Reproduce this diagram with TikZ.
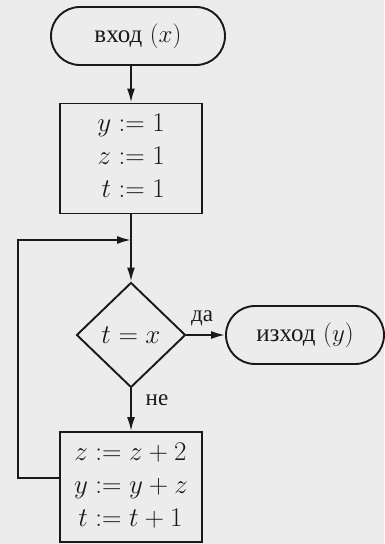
\documentclass[tikz,border=0pt]{standalone}
\usepackage{fix-cm}
\usepackage{amsmath}
\usepackage{fontspec}
\newfontfamily\cyr{Liberation Serif}
\usetikzlibrary{shapes.geometric,arrows.meta}
\definecolor{bgc}{RGB}{236,236,236}
\definecolor{ink}{RGB}{25,25,25}
\begin{document}
\begin{tikzpicture}[x=1pt,y=-1pt,line width=1.9pt,draw=ink,text=ink,
  term/.style={draw,rectangle,rounded corners=28.9pt,minimum width=174pt,minimum height=58pt,inner sep=0pt,font=\fontsize{25}{28}\selectfont},
  proc/.style={draw,rectangle,minimum width=142pt,minimum height=110pt,inner sep=0pt,font=\fontsize{27}{30}\selectfont},
  dec/.style={draw,diamond,minimum width=109pt,minimum height=105pt,inner sep=0pt,font=\fontsize{27}{30}\selectfont},
  lbl/.style={font=\fontsize{23}{26}\selectfont\cyr,inner sep=0pt},
  arr/.style={-{Latex[length=14pt,width=8pt]}}]
\fill[bgc] (0,0) rectangle (384,544);
\useasboundingbox (0,0) rectangle (384,544);
\node[term] (in) at (138,36) {{\cyr вход} $(x)$};
\node[proc] (b1) at (131,158.5) {$\begin{aligned} y&:=1\\ z&:=1\\ t&:=1\end{aligned}$};
\node[dec] (d) at (131,335) {$t=x$};
\node[term,minimum width=158pt] (out) at (305,335) {{\cyr изход} $(y)$};
\node[proc] (b2) at (131,487) {$\begin{aligned} z&:=z+2\\ y&:=y+z\\ t&:=t+1\end{aligned}$};
\coordinate (j) at (131,240);
\coordinate (lc) at (18,240);
\node[lbl] (da) at (202,318) {да};
\node[lbl] (ne) at (157,400) {не};
\draw[arr] (in.south -| b1.north) -- (b1.north);
\draw[arr] (b1.south) -- (d.north);
\draw[arr] (d.east) -- (out.west);
\draw[arr] (d.south) -- (b2.north);
\draw[arr] ([yshift=9pt]b2.west) -| (lc) -- (j);
\end{tikzpicture}
\end{document}
